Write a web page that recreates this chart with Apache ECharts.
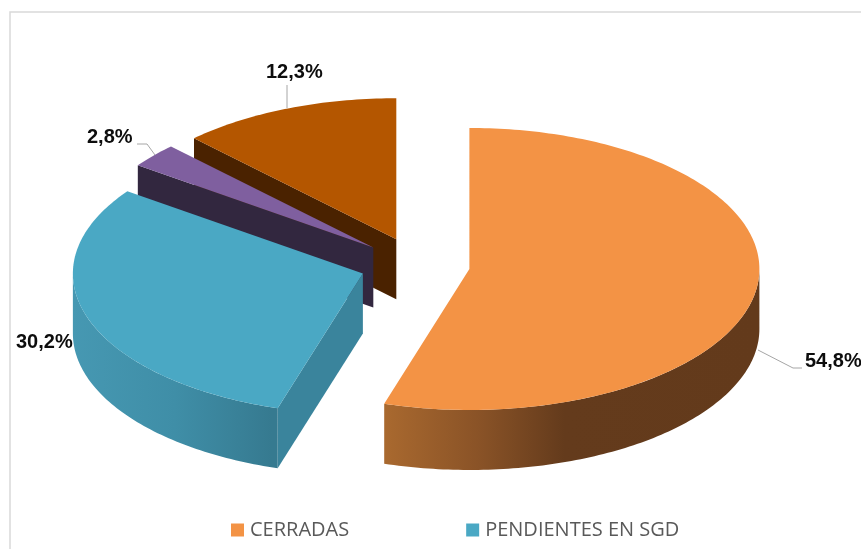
<!DOCTYPE html>
<html>
<head>
<meta charset="utf-8">
<style>html,body{margin:0;padding:0;background:#fff}#c{width:861px;height:549px}</style>
<script src="https://cdn.jsdelivr.net/npm/echarts@6/dist/echarts.min.js"></script>
</head>
<body>
<div id="c"></div>
<script>
// Data
const categories = ['CERRADAS', 'PENDIENTES EN SGD', 'Categoría 3', 'Categoría 4'];
const values = [54.8, 30.2, 2.8, 12.3];
const legendItems = ['CERRADAS', 'PENDIENTES EN SGD'];

// Styling and layout
const topColors = ['#f39345', '#4aa8c4', '#7f5f9f', '#b45600'];
const wallColors = [null, '#3a849c', '#32273f', '#4a2200'];
const arcStops = [
  [[0, '#a9692f'], [0.25, '#8a5327'], [0.48, '#643b1c'], [1, '#633a1b']],
  [[0, '#4698b2'], [0.5, '#3f8ea7'], [0.97, '#367a90'], [1, '#367a90']],
  null, null
];
const base = { cx: 415, cy: 265, rx: 290, ry: 141, depth: 60, explode: 55 };
const nudge = [[0, 0], [0, 0], [0, 0], [2, -1]];
const labels = [
  { x: 805, y: 361, line: [[758, 350], [793, 368], [802, 368]] },
  { x: 16, y: 342, line: null },
  { x: 87, y: 137, line: [[137, 144], [147, 144], [155, 155]] },
  { x: 266, y: 72, line: [[287, 85], [287, 108]] }
];

const total = values.reduce((a, b) => a + b, 0);
const rad = d => d * Math.PI / 180;

function sliceGeometry(i) {
  const before = values.slice(0, i).reduce((a, b) => a + b, 0);
  const a0 = before / total * 360;
  const a1 = (before + values[i]) / total * 360;
  const mid = rad((a0 + a1) / 2);
  const cx = base.cx + base.explode * Math.sin(mid) + nudge[i][0];
  const cy = base.cy - base.explode * (base.ry / base.rx) * Math.cos(mid) + nudge[i][1];
  const pt = (deg, dz) => [
    cx + base.rx * Math.sin(rad(deg)),
    cy - base.ry * Math.cos(rad(deg)) + (dz || 0)
  ];
  return { a0, a1, cx, cy, pt };
}

function arcPoints(pt, a, b, dz) {
  const out = [];
  const n = Math.max(2, Math.ceil(Math.abs(b - a)));
  for (let k = 0; k <= n; k++) out.push(pt(a + (b - a) * k / n, dz));
  return out;
}

function renderSlice(i) {
  const g = sliceGeometry(i);
  const children = [];
  const d = base.depth;
  const apex = [g.cx, g.cy];
  const apexLow = [g.cx, g.cy + d];

  // Wall along the starting radius
  if (wallColors[i]) {
    children.push({
      type: 'polygon',
      shape: { points: [apex, g.pt(g.a0), g.pt(g.a0, d), apexLow] },
      style: { fill: wallColors[i] }
    });
  }
  // Outer rim: only the front half (90..270) is visible
  const rimFrom = Math.max(g.a0, 90), rimTo = Math.min(g.a1, 270);
  if (rimTo > rimFrom && arcStops[i]) {
    const pts = arcPoints(g.pt, rimFrom, rimTo, 0)
      .concat(arcPoints(g.pt, rimTo, rimFrom, d));
    children.push({
      type: 'polygon',
      shape: { points: pts },
      style: {
        fill: new echarts.graphic.LinearGradient(0, 0, 1, 0,
          arcStops[i].map(s => ({ offset: s[0], color: s[1] })))
      }
    });
  }
  // Top face
  children.push({
    type: 'polygon',
    shape: { points: [apex].concat(arcPoints(g.pt, g.a0, g.a1, 0)) },
    style: { fill: topColors[i] }
  });
  // Leader and value label
  const lab = labels[i];
  if (lab.line) {
    children.push({
      type: 'polyline',
      shape: { points: lab.line },
      style: { stroke: '#a6a6a6', lineWidth: 1, fill: null }
    });
  }
  children.push({
    type: 'text',
    x: lab.x,
    y: lab.y,
    style: {
      text: values[i].toFixed(1).replace('.', ',') + '%',
      fill: '#0d0d0d',
      font: 'bold 20px "Liberation Sans", Arial, sans-serif',
      verticalAlign: 'middle',
      align: 'left'
    }
  });
  return { type: 'group', children };
}

// Painted back to front so nearer slices cover farther walls
const drawOrder = [3, 2, 1, 0];

const chart = echarts.init(document.getElementById('c'), null, { renderer: 'canvas' });
chart.setOption({
  animation: false,
  backgroundColor: '#ffffff',
  legend: {
    data: legendItems,
    left: 226,
    top: 515,
    padding: 5,
    icon: 'rect',
    itemWidth: 13,
    itemHeight: 13,
    itemGap: 117,
    textStyle: {
      color: '#595959',
      fontSize: 20,
      fontFamily: '"Open Sans", "Noto Sans", sans-serif',
      padding: [0, 0, 0, 1]
    }
  },
  graphic: [{
    type: 'polyline',
    silent: true,
    shape: { points: [[10, 549], [10, 12], [861, 12]] },
    style: { stroke: '#d9d9d9', lineWidth: 1.5, fill: null }
  }],
  series: drawOrder.map(i => ({
    type: 'custom',
    name: categories[i],
    coordinateSystem: 'none',
    silent: true,
    itemStyle: { color: topColors[i] },
    data: [[values[i]]],
    renderItem: () => renderSlice(i)
  }))
});
</script>
</body>
</html>
